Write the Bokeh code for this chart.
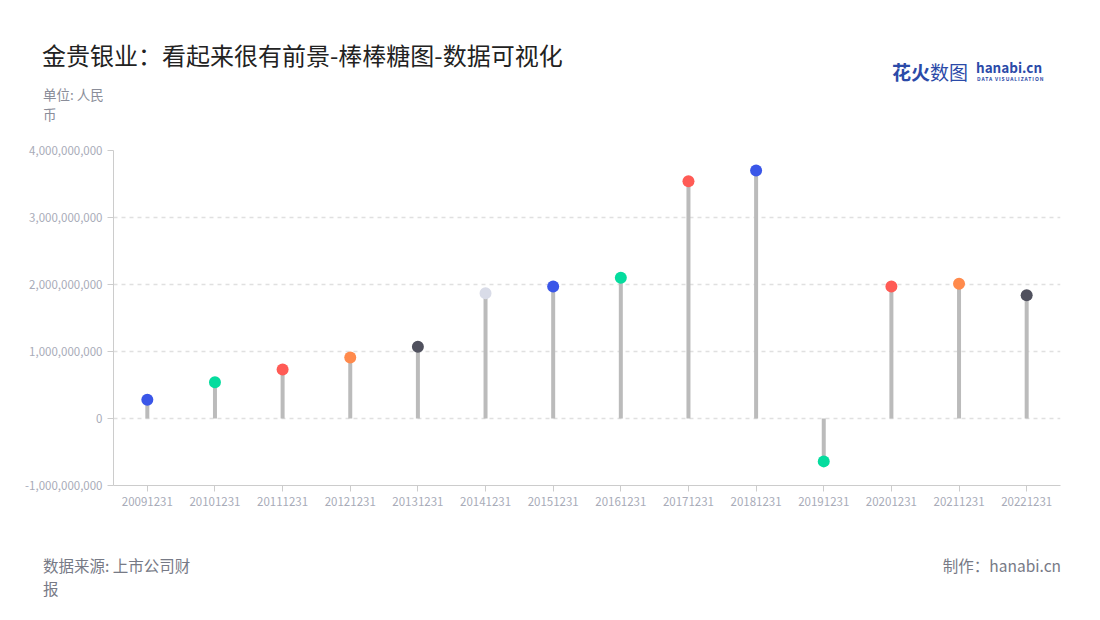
from bokeh.plotting import figure
from bokeh.models import ColumnDataSource, Range1d, FactorRange, NumeralTickFormatter, FixedTicker, Div
from bokeh.layouts import column
from bokeh.embed import file_html
from bokeh.resources import INLINE

years = ["20091231", "20101231", "20111231", "20121231", "20131231", "20141231", "20151231",
         "20161231", "20171231", "20181231", "20191231", "20201231", "20211231", "20221231"]
profit = [0.28e9, 0.54e9, 0.73e9, 0.91e9, 1.07e9, 1.87e9, 1.97e9,
          2.10e9, 3.54e9, 3.70e9, -0.64e9, 1.97e9, 2.01e9, 1.84e9]
dot_colors = ["#3a56e8", "#05dc9e", "#ff5b55", "#ff8a4c", "#50515e", "#d9dce8", "#3a56e8",
              "#05dc9e", "#ff5b55", "#3a56e8", "#05dc9e", "#ff5b55", "#ff8a4c", "#50515e"]
y_ticks = [-1e9, 0, 1e9, 2e9, 3e9, 4e9]

title_text = "金贵银业：看起来很有前景-棒棒糖图-数据可视化"
unit_lines = ["单位: 人民", "币"]
source_lines = ["数据来源: 上市公司财", "报"]
credit_text = "制作：hanabi.cn"
logo_cn_bold = "花火"
logo_cn_light = "数图"
logo_en = "hanabi.cn"
logo_sub = "DATA VISUALIZATION"

FONT = "Noto Sans CJK SC"
W = 1084
HEAD_H = 140
FIG_H = 370
FOOT_H = 94


def span(text, left, top, size, color, lh=None, weight="normal", right=None, extra=""):
    lh = lh or size
    pos = f"left:{left}px;" if right is None else f"right:{right}px;"
    return (f'<div style="position:absolute;{pos}top:{top}px;font-family:\'{FONT}\';'
            f'font-size:{size}px;line-height:{lh}px;color:{color};font-weight:{weight};'
            f'white-space:nowrap;{extra}">{text}</div>')


logo_cn_html = (f'<span style="font-weight:bold;">{logo_cn_bold}</span>'
                f'<span style="font-weight:normal;">{logo_cn_light}</span>')

header_html = (
    f'<div style="position:relative;width:{W}px;height:{HEAD_H}px;">'
    + span(title_text, 42, 42, 24, "#222222", lh=26)
    + span(unit_lines[0], 43, 88, 13.5, "#8a8d99", lh=13.5)
    + span(unit_lines[1], 43, 108, 13.5, "#8a8d99", lh=13.5)
    + span(logo_cn_html, 892, 62, 19, "#2b4aa8", lh=20)
    + span(logo_en, 976, 60, 13.5, "#2b4aa8", lh=15, weight="bold")
    + span(logo_sub, 977, 76, 5, "#2b4aa8", lh=6, weight="bold", extra="letter-spacing:0.9px;")
    + '</div>'
)
footer_html = (
    f'<div style="position:relative;width:{W}px;height:{FOOT_H}px;">'
    + span(source_lines[0], 43, 48, 15.5, "#777a86", lh=15.5)
    + span(source_lines[1], 43, 71, 15.5, "#777a86", lh=15.5)
    + span(credit_text, 0, 48, 15.5, "#777a86", lh=15.5, right=W - 1061)
    + '</div>'
)

header = Div(text=header_html, width=W, height=HEAD_H, styles={"margin": "0", "padding": "0"})
footer = Div(text=footer_html, width=W, height=FOOT_H, styles={"margin": "0", "padding": "0"})

src = ColumnDataSource(dict(x=years, y=profit, c=dot_colors, z=[0] * len(years)))

p = figure(width=W, height=FIG_H, x_range=FactorRange(*years), y_range=Range1d(-1e9, 4e9),
           output_backend="svg", toolbar_location=None,
           min_border_left=113, min_border_right=W - 1060, min_border_top=10, min_border_bottom=25)
p.outline_line_color = None
p.background_fill_color = "white"
p.border_fill_color = "white"

p.segment(x0="x", y0="z", x1="x", y1="y", source=src, line_color="#bbbbbb", line_width=4)
p.scatter(x="x", y="y", source=src, size=12, fill_color="c", line_color=None)

p.yaxis.ticker = FixedTicker(ticks=y_ticks)
p.yaxis.formatter = NumeralTickFormatter(format="0,0")
for ax in (p.xaxis, p.yaxis):
    ax.axis_line_color = "#cccccc"
    ax.major_tick_line_color = "#cccccc"
    ax.minor_tick_line_color = None
    ax.major_tick_in = 0
    ax.major_tick_out = 6
    ax.major_label_text_color = "#a8abb8"
    ax.major_label_text_font = FONT
    ax.major_label_text_font_size = "11.5px"
p.xaxis.major_label_standoff = 5
p.yaxis.major_label_standoff = 5
p.xgrid.grid_line_color = None
p.ygrid.grid_line_color = "#e0e0e0"
p.ygrid.grid_line_dash = "4 4"
p.ygrid.grid_line_width = 1.3

layout = column(header, p, footer, spacing=0)
open("out.html", "w").write(file_html(layout, INLINE))
